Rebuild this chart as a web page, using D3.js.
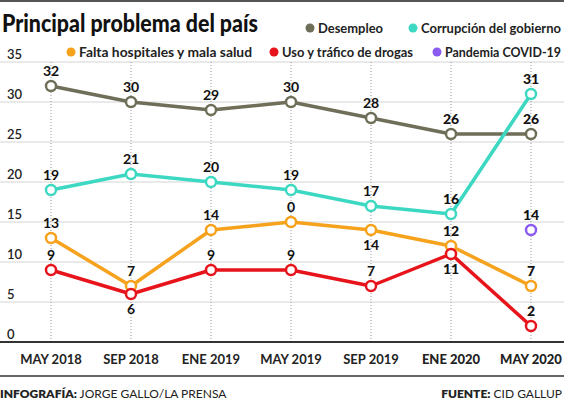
<!DOCTYPE html>
<html><head><meta charset="utf-8">
<script src="https://cdn.jsdelivr.net/npm/d3@7"></script>
<style>body{margin:0;background:#fff}svg{display:block}text{font-family:Lato,"Noto Sans",sans-serif}</style>
</head><body><svg id="c" width="564" height="400"></svg>
<script>
const categories = ["MAY 2018","SEP 2018","ENE 2019","MAY 2019","SEP 2019","ENE 2020","MAY 2020"];
const desempleo = [32,30,29,30,28,26,26];
const corrupcion = [19,21,20,19,17,16,31];
const hospitales = [13,7,14,15,14,12,7];
const hospitalesLabels = ["13","7","14","0","14","12","7"];
const drogas = [9,6,9,9,7,11,2];
const pandemia = [null,null,null,null,null,null,14];
const yTicks = [0,5,10,15,20,25,30,35];

const svg = d3.select("#c");
const W = 564;
const x = d3.scalePoint().domain(categories).range([51,531]);
const y = d3.scaleLinear().domain([0,35]).range([342,62]);

svg.append("rect").attr("x",0).attr("y",0).attr("width",W).attr("height",2).attr("fill","#555");

svg.append("text").attr("x",2).attr("y",32).attr("font-size",25).attr("font-weight",900)
  .attr("fill","#111").attr("textLength",256).attr("lengthAdjust","spacingAndGlyphs")
  .text("Principal problema del país");

// grid
const g = svg.append("g");
g.selectAll("line.h").data(yTicks.filter(d=>d>0)).join("line")
  .attr("x1",0).attr("x2",W).attr("y1",d=>y(d)).attr("y2",d=>y(d))
  .attr("stroke","#d4d4d4").attr("stroke-width",1);
g.selectAll("text.yt").data(yTicks).join("text")
  .attr("x",7).attr("y",d=>y(d)-3).attr("font-size",13).attr("font-weight",600).attr("fill","#222")
  .text(d=>d);
g.selectAll("line.v").data(categories).join("line")
  .attr("x1",d=>x(d)).attr("x2",d=>x(d)).attr("y1",y(35)).attr("y2",y(0))
  .attr("stroke","#999").attr("stroke-width",1).attr("stroke-dasharray","1,2");

svg.append("line").attr("x1",0).attr("x2",W).attr("y1",y(0)).attr("y2",y(0)).attr("stroke","#333").attr("stroke-width",2);
svg.append("line").attr("x1",0).attr("x2",W).attr("y1",376).attr("y2",376).attr("stroke","#333").attr("stroke-width",1.5);

svg.selectAll("text.xl").data(categories).join("text")
  .attr("x",d=>x(d)).attr("y",364).attr("text-anchor","middle").attr("font-size",13)
  .attr("font-weight",(d,i)=>i>=5?900:700).attr("fill","#222").text(d=>d);

const series = [
  {name:"Desempleo", color:"#6f6e58", values:desempleo, labels:desempleo.map(String), below:[]},
  {name:"Corrupción del gobierno", color:"#3dd8c2", values:corrupcion, labels:corrupcion.map(String), below:[]},
  {name:"Falta hospitales y mala salud", color:"#f6a21c", values:hospitales, labels:hospitalesLabels, below:[4]},
  {name:"Uso y tráfico de drogas", color:"#e8141b", values:drogas, labels:drogas.map(String), below:[1,5]},
  {name:"Pandemia COVID-19", color:"#8c5cf0", values:pandemia, labels:pandemia.map(d=>d==null?"":String(d)), below:[]}
];

const line = d3.line().defined(d=>d.v!=null).x(d=>x(d.c)).y(d=>y(d.v));
series.forEach(s=>{
  const pts = s.values.map((v,i)=>({c:categories[i],v,i,l:s.labels[i]}));
  svg.append("path").datum(pts).attr("d",line).attr("fill","none").attr("stroke",s.color)
    .attr("stroke-width",3.5).attr("stroke-linejoin","round");
  s.pts = pts;
});
series.forEach(s=>{
  svg.selectAll(null).data(s.pts.filter(d=>d.v!=null)).join("circle")
    .attr("cx",d=>x(d.c)).attr("cy",d=>y(d.v)).attr("r",5)
    .attr("fill","#fff").attr("stroke",s.color).attr("stroke-width",2.5);
});
series.forEach(s=>{
  svg.selectAll(null).data(s.pts.filter(d=>d.v!=null)).join("text")
    .attr("x",d=>x(d.c)).attr("y",d=>s.below.includes(d.i)? y(d.v)+20 : y(d.v)-10)
    .attr("text-anchor","middle").attr("font-size",14).attr("font-weight",d=>d.i>=5?900:700)
    .attr("fill","#111").text(d=>d.l);
});

// legend
const legend = [
  {s:0,cx:310,cy:28,w:65},{s:1,cx:413,cy:28,w:140},
  {s:2,cx:71,cy:52,w:173},{s:3,cx:274,cy:52,w:131},{s:4,cx:437,cy:52,w:116}
];
legend.forEach(L=>{
  const s = series[L.s];
  svg.append("circle").attr("cx",L.cx).attr("cy",L.cy).attr("r",4.5).attr("fill",s.color);
  svg.append("text").attr("x",L.cx+8).attr("y",L.cy+5).attr("font-size",12.5).attr("font-weight",700)
    .attr("fill","#222").attr("textLength",L.w).attr("lengthAdjust","spacingAndGlyphs").text(s.name);
});

// footer
const f1 = svg.append("text").attr("x",0).attr("y",398).attr("font-size",12).attr("fill","#222");
f1.append("tspan").attr("font-weight",800).text("INFOGRAFÍA:");
f1.append("tspan").attr("font-weight",400).text(" JORGE GALLO/LA PRENSA");
const f2 = svg.append("text").attr("x",W-2).attr("y",398).attr("font-size",12).attr("fill","#222").attr("text-anchor","end");
f2.append("tspan").attr("font-weight",800).text("FUENTE:");
f2.append("tspan").attr("font-weight",400).text(" CID GALLUP");
</script></body></html>
